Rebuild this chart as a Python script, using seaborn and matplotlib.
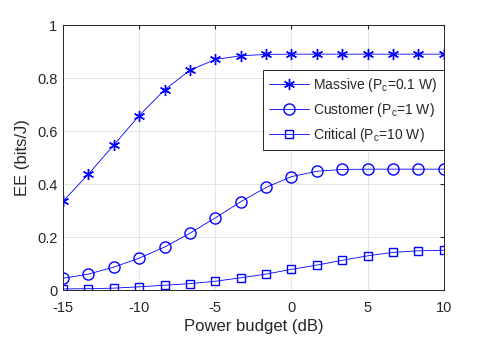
import matplotlib
matplotlib.use("Agg")
import matplotlib.pyplot as plt
import seaborn as sns
import pandas as pd

power_db = [-15, -13.33, -11.67, -10, -8.33, -6.67, -5, -3.33, -1.67, 0,
            1.67, 3.33, 5, 6.67, 8.33, 10]
ee_massive = [0.334, 0.437, 0.546, 0.658, 0.755, 0.829, 0.870, 0.884, 0.889, 0.890,
              0.890, 0.890, 0.890, 0.890, 0.890, 0.890]
ee_customer = [0.044, 0.060, 0.086, 0.120, 0.162, 0.214, 0.272, 0.333, 0.387, 0.428,
               0.448, 0.455, 0.456, 0.456, 0.456, 0.456]
ee_critical = [0.004, 0.005, 0.007, 0.012, 0.018, 0.024, 0.033, 0.046, 0.060, 0.078,
               0.094, 0.112, 0.129, 0.142, 0.148, 0.150]
labels = [r"Massive ($\mathregular{P_c}$=0.1 W)",
          r"Customer ($\mathregular{P_c}$=1 W)",
          r"Critical ($\mathregular{P_c}$=10 W)"]
markers = [(6, 2, 0), "o", "s"]
sizes = [8, 8, 6]

sns.set_style("white")
plt.rcParams["font.family"] = ["Liberation Sans", "DejaVu Sans"]
plt.rcParams["mathtext.fontset"] = "custom"
plt.rcParams["mathtext.rm"] = "Liberation Sans"
plt.rcParams["axes.unicode_minus"] = False

fig = plt.figure(figsize=(4.91, 3.38), dpi=100)
ax = fig.add_axes([0.128, 0.142, 0.776, 0.784])

blue = (0, 0, 1)
dark = (0.15, 0.15, 0.15)
for vals, lab, m, s in zip([ee_massive, ee_customer, ee_critical], labels, markers, sizes):
    df = pd.DataFrame({"x": power_db, "y": vals})
    sns.lineplot(data=df, x="x", y="y", ax=ax, color=blue, lw=0.6, marker=m,
                 markersize=s, markerfacecolor="none", markeredgecolor=blue,
                 markeredgewidth=1.0, label=lab)

ax.set_xlim(-15, 10)
ax.set_ylim(0, 1)
ax.set_xticks([-15, -10, -5, 0, 5, 10])
ax.set_yticks([0, 0.2, 0.4, 0.6, 0.8, 1])
ax.set_yticklabels(["0", "0.2", "0.4", "0.6", "0.8", "1"])
ax.set_xlabel("Power budget (dB)", fontsize=12, color=dark, labelpad=3)
ax.set_ylabel("EE (bits/J)", fontsize=12, color=dark, labelpad=5)
ax.grid(True, color=(0.88, 0.88, 0.88), lw=0.6)
ax.tick_params(direction="in", length=3, labelsize=10.5, colors=dark,
               top=True, right=True)
ax.tick_params(axis="x", pad=8)
ax.tick_params(axis="y", pad=4)
for sp in ax.spines.values():
    sp.set_color(dark)
    sp.set_linewidth(0.7)

leg = ax.legend(loc="upper right", bbox_to_anchor=(1.0, 0.83), borderaxespad=0,
                fontsize=10, fancybox=False, framealpha=1, handlelength=2.9,
                borderpad=0.45, labelspacing=0.5, handletextpad=0.3)
leg.get_frame().set_edgecolor(dark)
leg.get_frame().set_linewidth(0.7)

fig.savefig("out.png", dpi=100)
